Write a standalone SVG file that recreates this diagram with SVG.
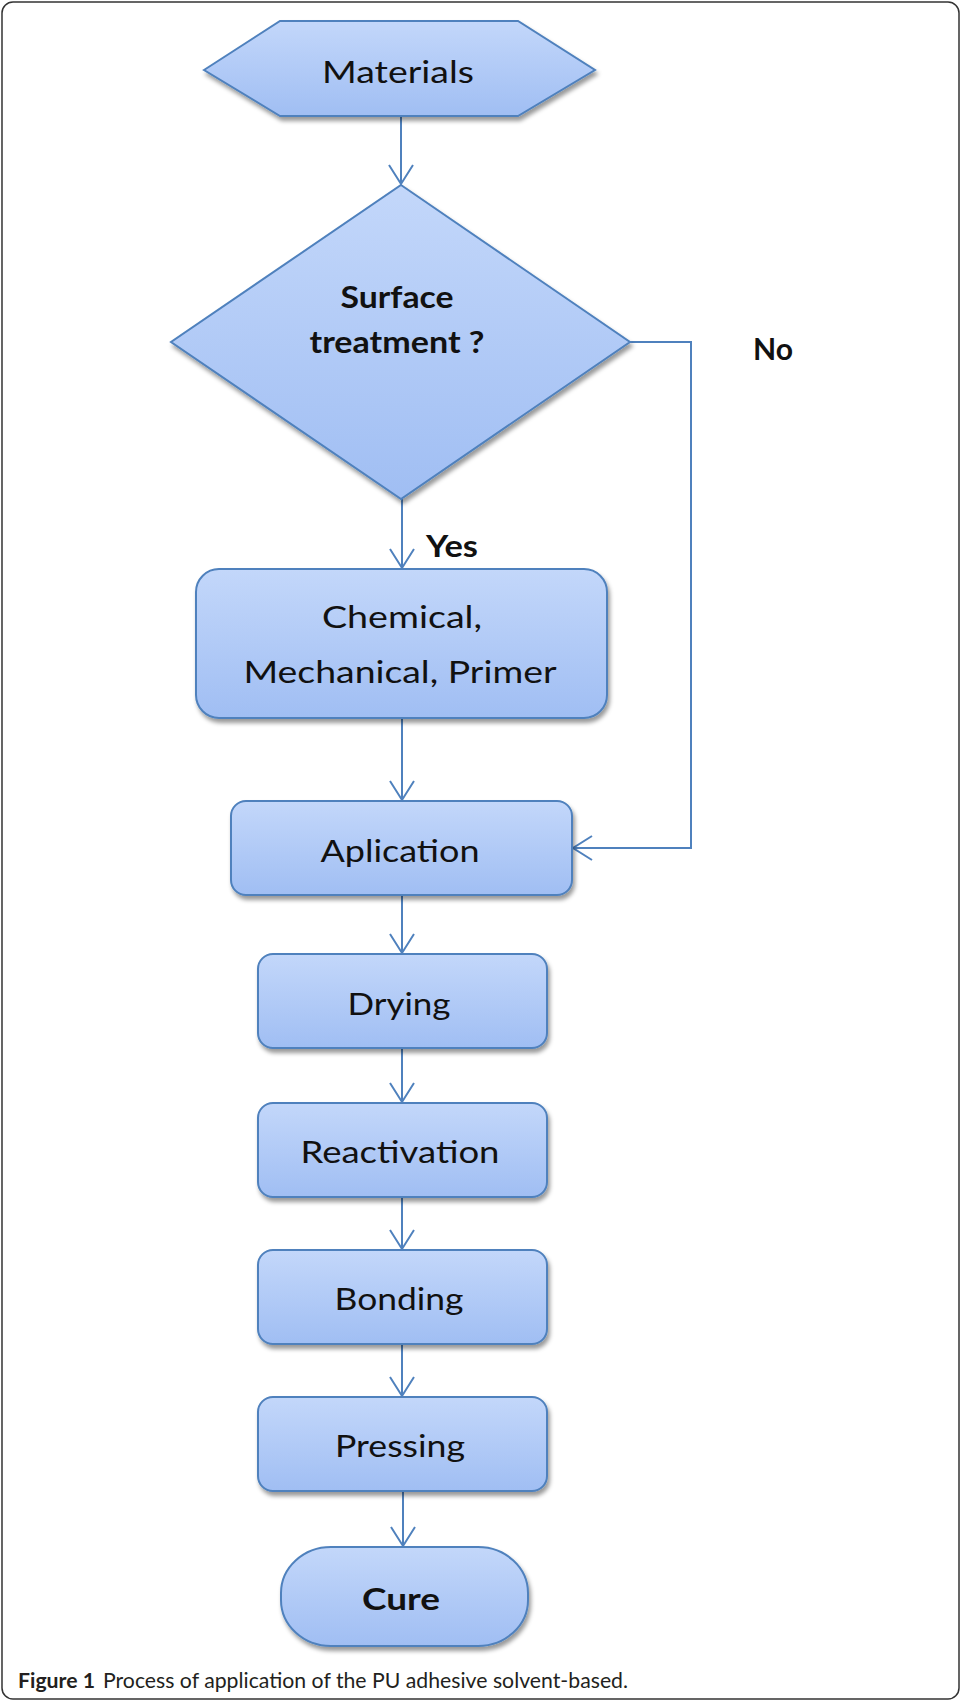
<svg xmlns="http://www.w3.org/2000/svg" width="961" height="1701" viewBox="0 0 961 1701">
<style>
.node{stroke:#4F81BD;stroke-width:2;fill:url(#fillGrad);filter:url(#shadow)}
.lbl{font-family:Lato,"Open Sans","DejaVu Sans",sans-serif;font-size:30px;fill:#111;text-anchor:middle}
.bold{font-weight:bold}
.edge{fill:none;stroke:#4F81BD;stroke-width:2}
.cap{font-family:Lato,"Liberation Sans",sans-serif;font-size:21px;fill:#231f20}
</style>
<defs>
<linearGradient id="fillGrad" x1="0" y1="0" x2="0" y2="1">
<stop offset="0" stop-color="#C3D7FA"/>
<stop offset="1" stop-color="#A0BEF3"/>
</linearGradient>
<filter id="shadow" x="-10%" y="-10%" width="125%" height="130%">
<feGaussianBlur in="SourceAlpha" stdDeviation="2"/>
<feOffset dx="2" dy="4" result="b"/>
<feFlood flood-color="#000" flood-opacity="0.4"/>
<feComposite in2="b" operator="in" result="s"/>
<feMerge><feMergeNode in="s"/><feMergeNode in="SourceGraphic"/></feMerge>
</filter>
<marker id="arr" markerUnits="userSpaceOnUse" viewBox="-21 -14 23 28" refX="0" refY="0" markerWidth="23" markerHeight="28" orient="auto">
<path d="M-19,-12 L0,0 L-19,12" fill="none" stroke="#4F81BD" stroke-width="2"/>
</marker>
</defs>
<rect x="2" y="2" width="957" height="1697" rx="11" ry="11" fill="#fff" stroke="#333" stroke-width="1.5"/>
<g id="connectors">
<line class="edge" x1="401" y1="116" x2="401" y2="184" marker-end="url(#arr)"/>
<line class="edge" x1="402" y1="499" x2="402" y2="568" marker-end="url(#arr)"/>
<line class="edge" x1="402" y1="718" x2="402" y2="800" marker-end="url(#arr)"/>
<polyline class="edge" points="630,342 691,342 691,848 573,848" marker-end="url(#arr)"/>
<line class="edge" x1="402" y1="895" x2="402" y2="953" marker-end="url(#arr)"/>
<line class="edge" x1="402" y1="1048" x2="402" y2="1102" marker-end="url(#arr)"/>
<line class="edge" x1="402" y1="1197" x2="402" y2="1249" marker-end="url(#arr)"/>
<line class="edge" x1="402" y1="1344" x2="402" y2="1396" marker-end="url(#arr)"/>
<line class="edge" x1="403" y1="1491" x2="403" y2="1546" marker-end="url(#arr)"/>
<text class="lbl bold" x="452" y="557" font-size="29" textLength="52" lengthAdjust="spacingAndGlyphs">Yes</text>
<text class="lbl bold" x="773" y="360" font-size="29" textLength="40" lengthAdjust="spacingAndGlyphs">No</text>
</g>
<g id="materials">
<polygon class="node" points="204,70 280,21 518,21 595,70 518,116 280,116"/>
<text class="lbl" x="398" y="83" textLength="152" lengthAdjust="spacingAndGlyphs">Materials</text>
</g>
<g id="surface-treatment">
<polygon class="node" points="401,185 630,342 401,499 171,342"/>
<text class="lbl bold" x="397" y="308" font-size="29" textLength="113" lengthAdjust="spacingAndGlyphs">Surface</text>
<text class="lbl bold" x="397" y="353" font-size="29" textLength="175" lengthAdjust="spacingAndGlyphs">treatment ?</text>
</g>
<g id="chemical">
<rect class="node" x="196" y="569" width="411" height="149" rx="23" ry="23"/>
<text class="lbl" x="402" y="628" textLength="160" lengthAdjust="spacingAndGlyphs">Chemical,</text>
<text class="lbl" x="400" y="683" textLength="313" lengthAdjust="spacingAndGlyphs">Mechanical, Primer</text>
</g>
<g id="aplication">
<rect class="node" x="231" y="801" width="341" height="94" rx="15" ry="15"/>
<text class="lbl" x="400" y="862" textLength="159" lengthAdjust="spacingAndGlyphs">Aplication</text>
</g>
<g id="drying">
<rect class="node" x="258" y="954" width="289" height="94" rx="15" ry="15"/>
<text class="lbl" x="399" y="1015" textLength="103" lengthAdjust="spacingAndGlyphs">Drying</text>
</g>
<g id="reactivation">
<rect class="node" x="258" y="1103" width="289" height="94" rx="15" ry="15"/>
<text class="lbl" x="400" y="1163" textLength="199" lengthAdjust="spacingAndGlyphs">Reactivation</text>
</g>
<g id="bonding">
<rect class="node" x="258" y="1250" width="289" height="94" rx="15" ry="15"/>
<text class="lbl" x="399" y="1310" textLength="129" lengthAdjust="spacingAndGlyphs">Bonding</text>
</g>
<g id="pressing">
<rect class="node" x="258" y="1397" width="289" height="94" rx="15" ry="15"/>
<text class="lbl" x="400" y="1457" textLength="130" lengthAdjust="spacingAndGlyphs">Pressing</text>
</g>
<g id="cure">
<rect class="node" x="281" y="1547" width="247" height="99" rx="50" ry="46"/>
<text class="lbl bold" x="401" y="1610" font-size="32" textLength="78" lengthAdjust="spacingAndGlyphs">Cure</text>
</g>
<g id="caption">
<text class="cap" x="18" y="1688" font-weight="bold" textLength="77" lengthAdjust="spacingAndGlyphs">Figure 1</text>
<text class="cap" x="103" y="1688" textLength="525" lengthAdjust="spacingAndGlyphs">Process of application of the PU adhesive solvent-based.</text>
</g>
</svg>
